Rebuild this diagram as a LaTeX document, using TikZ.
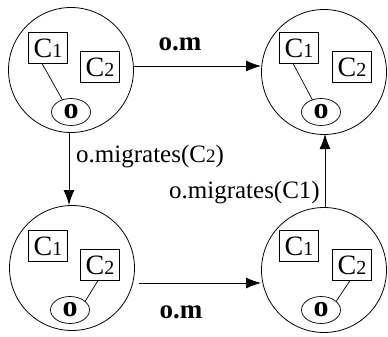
\documentclass[tikz,border=0pt]{standalone}
\usepackage{fontspec}
\setmainfont{Liberation Serif}
\usetikzlibrary{arrows.meta,shapes.geometric}
\newcommand{\cbox}[1]{{\fontsize{28}{28}\selectfont C\fontsize{20}{20}\selectfont #1}}
\begin{document}
\begin{tikzpicture}[x=1pt,y=-1pt,
  world/.style={draw,circle,line width=0.8pt,minimum size=125pt,inner sep=0pt},
  cls/.style={draw,rectangle,line width=0.7pt,minimum width=39pt,minimum height=31pt,inner sep=0pt},
  obj/.style={draw,ellipse,line width=0.7pt,minimum width=39pt,minimum height=27pt,inner sep=0pt,font=\fontsize{30}{30}\selectfont\bfseries},
  link/.style={line width=0.7pt},
  move/.style={line width=0.9pt,-{Latex[length=15pt,width=11pt]}},
  lbl/.style={inner sep=0pt,font=\fontsize{25}{25}\selectfont},
  blbl/.style={inner sep=0pt,font=\fontsize{27}{27}\selectfont\bfseries}]
\useasboundingbox (0,0) rectangle (388,337);
% worlds
\node[world] (w1) at (71,70) {};
\node[world] (w2) at (324,72) {};
\node[world] (w3) at (72,268) {};
\node[world] (w4) at (324,270) {};
% top-left
\node[cls] (a1) at (48,48) {\cbox{1}};
\node[cls] (a2) at (100,67) {\cbox{2}};
\node[obj] (ao) at (71,112) {o};
\draw[link] (a1.250) -- (ao.125);
% top-right
\node[cls] (b1) at (299,48) {\cbox{1}};
\node[cls] (b2) at (352,67) {\cbox{2}};
\node[obj] (bo) at (321,112) {o};
\draw[link] (b1.250) -- (bo.125);
% bottom-left
\node[cls] (c1) at (48,246) {\cbox{1}};
\node[cls] (c2) at (100,265) {\cbox{2}};
\node[obj] (co) at (70,310) {o};
\draw[link] (c2.262) -- (co.30);
% bottom-right
\node[cls] (d1) at (299,246) {\cbox{1}};
\node[cls] (d2) at (352,265) {\cbox{2}};
\node[obj] (do) at (321,310) {o};
\draw[link] (d2.262) -- (do.30);
% arrows
\coordinate (t1) at (133,66);
\coordinate (t2) at (261,66);
\draw[move] (t1) -- (t2);
\node[blbl,anchor=base] (l1) at (180,51) {o.m};
\coordinate (u1) at (139,283);
\coordinate (u2) at (261,283);
\draw[move] (u1) -- (u2);
\node[blbl,anchor=base] (l2) at (181,318) {o.m};
\coordinate (v1) at (69,132);
\coordinate (v2) at (69,205);
\draw[move] (v1) -- (v2);
\node[lbl,anchor=base west] (l3) at (76,162) {o.migrates(C{\fontsize{19}{19}\selectfont 2})};
\coordinate (r1) at (325,207);
\coordinate (r2) at (325,134);
\draw[move] (r1) -- (r2);
\node[lbl,anchor=base east] (l4) at (320,198) {o.migrates(C1)};
\end{tikzpicture}
\end{document}
